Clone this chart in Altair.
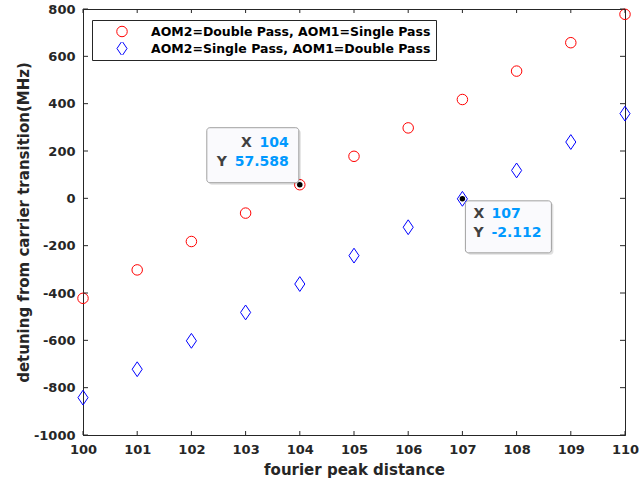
import altair as alt
import pandas as pd

# ---- data ----
x_vals = [100, 101, 102, 103, 104, 105, 106, 107, 108, 109, 110]
series_names = ["AOM2=Double Pass, AOM1=Single Pass",
                "AOM2=Single Pass, AOM1=Double Pass"]
double_pass_y = [-422.4, -302.4, -182.4, -62.4, 57.588, 177.6,
                 297.6, 417.6, 537.6, 657.6, 777.6]
single_pass_y = [-842.1, -722.1, -602.1, -482.1, -362.1, -242.1,
                 -122.1, -2.112, 117.9, 237.9, 357.9]
x_ticks = [100, 101, 102, 103, 104, 105, 106, 107, 108, 109, 110]
y_ticks = [-1000, -800, -600, -400, -200, 0, 200, 400, 600, 800]
tip_x = [104, 107]
tip_y = [57.588, -2.112]
tip_x_text = ["104", "107"]
tip_y_text = ["57.588", "-2.112"]

W, H = 542, 426
FONT = "DejaVu Sans"
AX = "#262626"
TIPLAB = "#404040"
TIPVAL = "#0099ff"

df = pd.DataFrame({
    "x": x_vals + x_vals,
    "y": double_pass_y + single_pass_y,
    "series": [series_names[0]] * len(x_vals) + [series_names[1]] * len(x_vals),
})

xs = alt.Scale(domain=[100, 110], nice=False, zero=False)
ys = alt.Scale(domain=[-1000, 800], nice=False, zero=False)

x_axis = alt.Axis(values=x_ticks, labelExpr="'' + datum.value", ticks=False,
                  tickSize=0, grid=False,
                  labelFont=FONT, labelFontWeight="bold", labelFontSize=13,
                  labelColor=AX, labelPadding=8, labelFlush=False,
                  labelOverlap=False, domainColor=AX, domainWidth=1,
                  titleFont=FONT, titleFontSize=15, titleFontWeight="bold",
                  titleColor=AX, titlePadding=6)
y_axis = alt.Axis(values=y_ticks, labelExpr="'' + datum.value", ticks=False,
                  tickSize=0, grid=False,
                  labelFont=FONT, labelFontWeight="bold", labelFontSize=13,
                  labelColor=AX, labelPadding=8, labelFlush=False,
                  labelOverlap=False, domainColor=AX, domainWidth=1,
                  titleFont=FONT, titleFontSize=15, titleFontWeight="bold",
                  titleColor=AX, titlePadding=2)

XT = "fourier peak distance"
YT = "detuning from carrier transition(MHz)"


def X(field):
    return alt.X(field, scale=xs, axis=x_axis, title=XT)


def Y(field):
    return alt.Y(field, scale=ys, axis=y_axis, title=YT)


diamond_path = "M0,-1L0.68,0L0,1L-0.68,0Z"

legend = alt.Legend(title=None, orient="none", legendX=9, legendY=11,
                    strokeColor=AX, fillColor="white", padding=5,
                    symbolOffset=17, labelOffset=21, rowPadding=4,
                    clipHeight=13,
                    symbolSize=110, symbolStrokeWidth=1,
                    labelFont=FONT, labelFontWeight="bold", labelFontSize=12.5,
                    labelColor="#000000", labelLimit=0)

points = alt.Chart(df).mark_point(filled=False, strokeWidth=1, opacity=1).encode(
    x=X("x:Q"),
    y=Y("y:Q"),
    color=alt.Color("series:N",
                    scale=alt.Scale(domain=series_names, range=["#ff0000", "#0000ff"]),
                    legend=legend),
    shape=alt.Shape("series:N",
                    scale=alt.Scale(domain=series_names, range=["circle", diamond_path]),
                    legend=legend),
    size=alt.Size("series:N",
                  scale=alt.Scale(domain=series_names, range=[110, 220]),
                  legend=None),
)

# inward tick marks (MATLAB style) on all four sides
xt_df = pd.DataFrame({"t": x_ticks})
yt_df = pd.DataFrame({"t": y_ticks})
tick_bottom = alt.Chart(xt_df).mark_rule(color=AX, strokeWidth=1).encode(
    x=X("t:Q"), y=alt.value(H), y2=alt.value(H - 4))
tick_top = alt.Chart(xt_df).mark_rule(color=AX, strokeWidth=1).encode(
    x=X("t:Q"), y=alt.value(0), y2=alt.value(4))
tick_left = alt.Chart(yt_df).mark_rule(color=AX, strokeWidth=1).encode(
    y=Y("t:Q"), x=alt.value(0), x2=alt.value(5))
tick_right = alt.Chart(yt_df).mark_rule(color=AX, strokeWidth=1).encode(
    y=Y("t:Q"), x=alt.value(W), x2=alt.value(W - 5))


def datatip(i, box, xlab, vals, rows, align_lab, align_val):
    d = pd.DataFrame({"x": [tip_x[i]], "y": [tip_y[i]],
                      "xt": [tip_x_text[i]], "yt": [tip_y_text[i]]})
    base = alt.Chart(d)
    enc = dict(x=X("x:Q"), y=Y("y:Q"))
    x0, x1, y0, y1 = box
    shadow = base.mark_rect(xOffset=x0 + 2, x2Offset=x1 + 2, yOffset=y0 + 2,
                            y2Offset=y1 + 2, cornerRadius=3, fill="#000000",
                            opacity=0.12).encode(x2="x:Q", y2="y:Q", **enc)
    rect = base.mark_rect(xOffset=x0, x2Offset=x1, yOffset=y0, y2Offset=y1,
                          cornerRadius=3, fill="#fafafd", stroke="#a0a0a0",
                          strokeWidth=1).encode(x2="x:Q", y2="y:Q", **enc)
    common = dict(font=FONT, fontWeight="bold", fontSize=14, baseline="middle")
    lx = base.mark_text(text="X", dx=xlab[0], dy=rows[0], align=align_lab,
                        color=TIPLAB, **common).encode(**enc)
    ly = base.mark_text(text="Y", dx=xlab[1], dy=rows[1], align=align_lab,
                        color=TIPLAB, **common).encode(**enc)
    vx = base.mark_text(dx=vals, dy=rows[0], align=align_val, color=TIPVAL,
                        **common).encode(text="xt:N", **enc)
    vy = base.mark_text(dx=vals, dy=rows[1], align=align_val, color=TIPVAL,
                        **common).encode(text="yt:N", **enc)
    dot = base.mark_point(filled=True, shape="circle", size=30, color="#000000",
                          opacity=1).encode(**enc)
    return [shadow, rect, lx, ly, vx, vy, dot]


tip1 = datatip(0, (-93, -1, -57, -2), (-48, -73), -11, (-42, -23), "right", "right")
tip2 = datatip(1, (3, 89, 2, 54), (11, 11), 29, (15, 34), "left", "left")

chart = alt.layer(points, tick_bottom, tick_top, tick_left, tick_right,
                  *tip1, *tip2).properties(
    width=W, height=H,
    padding={"left": 83, "top": 9, "right": 14, "bottom": 54},
    autosize="none",
).configure(background="white").configure_view(stroke=AX, strokeWidth=1)

chart.save("out.html", embed_options={"renderer": "svg", "actions": False})
